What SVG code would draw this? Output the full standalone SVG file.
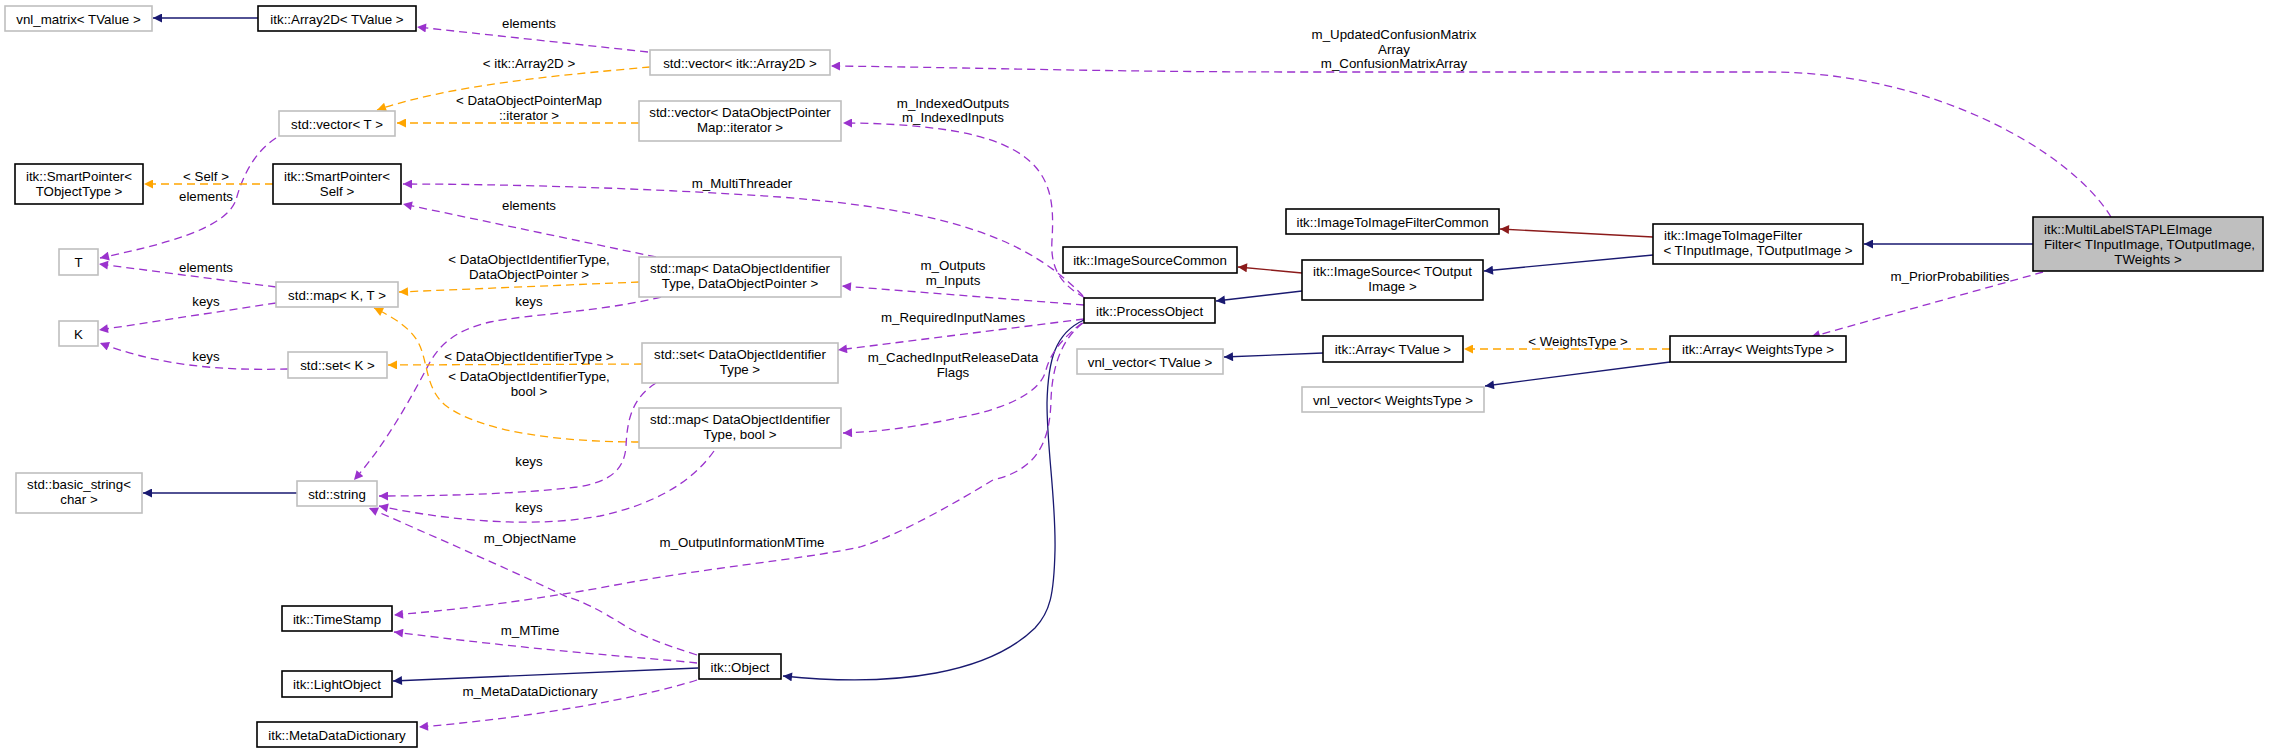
<svg xmlns="http://www.w3.org/2000/svg" width="2269" height="753" viewBox="0 0 2269 753">
<defs>
<style>
text{font-family:"Liberation Sans",Arial,sans-serif;font-size:13.3px;fill:#000}
.c{text-anchor:middle}
.l{text-anchor:start}
.nb{fill:#fff;stroke:#000;stroke-width:1.6}
.ng{fill:#fff;stroke:#bfbfbf;stroke-width:1.6}
.nm{fill:#bfbfbf;stroke:#000;stroke-width:1.6}
.u{fill:none;stroke:#9a32cd;stroke-width:1.3;stroke-dasharray:8,5;marker-end:url(#ap)}
.t{fill:none;stroke:#ffa500;stroke-width:1.3;stroke-dasharray:8,5;marker-end:url(#ao)}
.i{fill:none;stroke:#191970;stroke-width:1.3;marker-end:url(#an)}
.r{fill:none;stroke:#8b1a1a;stroke-width:1.3;marker-end:url(#ar)}
</style>
<marker id="ap" viewBox="0 0 10 10" refX="10" refY="5" markerWidth="12" markerHeight="9" markerUnits="userSpaceOnUse" orient="auto"><path d="M0,0 L10,5 L0,10 z" fill="#9a32cd"/></marker>
<marker id="ao" viewBox="0 0 10 10" refX="10" refY="5" markerWidth="12" markerHeight="9" markerUnits="userSpaceOnUse" orient="auto"><path d="M0,0 L10,5 L0,10 z" fill="#ffa500"/></marker>
<marker id="an" viewBox="0 0 10 10" refX="10" refY="5" markerWidth="12" markerHeight="9" markerUnits="userSpaceOnUse" orient="auto"><path d="M0,0 L10,5 L0,10 z" fill="#191970"/></marker>
<marker id="ar" viewBox="0 0 10 10" refX="10" refY="5" markerWidth="12" markerHeight="9" markerUnits="userSpaceOnUse" orient="auto"><path d="M0,0 L10,5 L0,10 z" fill="#8b1a1a"/></marker>
</defs>
<rect width="2269" height="753" fill="#fff"/>

<g id="connectors">
<path class="i" d="M258,18 L153,18"/>
<path class="u" d="M648,52 L417,27"/>
<path class="t" d="M650,67 C560,75 450,85 377,110"/>
<path class="t" d="M639,123 L397,123"/>
<path class="u" d="M2111,217 C2070,150 1930,72 1770,72 L1300,72 C1100,72 950,67 831,66"/>
<path class="u" d="M1085,298 C1062,285 1050,270 1052,240 C1055,190 1050,150 960,132 C920,125 880,123 843,123"/>
<path class="u" d="M1083,296 C1030,240 950,210 780,197 C650,188 500,184 403,184"/>
<path class="u" d="M656,257 L403,204"/>
<path class="t" d="M639,282 L399,292"/>
<path class="u" d="M661,297 C600,312 530,314 490,322 C455,330 440,345 430,362 C410,400 385,445 354,480"/>
<path class="u" d="M276,287 L99,264"/>
<path class="u" d="M276,303 L99,330"/>
<path class="u" d="M288,369 C240,370 170,370 100,343"/>
<path class="u" d="M276,138 C250,155 240,185 236,200 C225,230 160,245 100,258"/>
<path class="t" d="M273,184 L144,184"/>
<path class="t" d="M642,364 L388,365"/>
<path class="t" d="M639,442 C560,442 480,432 445,405 C425,388 428,360 418,342 C410,328 395,318 374,308"/>
<path class="u" d="M656,383 C632,398 627,420 626,447 C624,470 610,482 577,487 C520,494 440,496 379,496"/>
<path class="u" d="M714,451 C690,485 650,505 600,516 C540,527 460,523 379,506"/>
<path class="i" d="M297,493 L143,493"/>
<path class="u" d="M2043,272 L1811,337"/>
<path class="t" d="M1670,349 L1464,349"/>
<path class="i" d="M1670,362 L1485,386"/>
<path class="i" d="M1323,353 L1224,357"/>
<path class="i" d="M2033,244 L1864,244"/>
<path class="r" d="M1653,237 L1500,229"/>
<path class="i" d="M1653,255 L1484,271"/>
<path class="r" d="M1302,273 L1238,267"/>
<path class="i" d="M1302,291 L1216,301"/>
<path class="i" d="M1084,320 C1055,333 1048,360 1047,403 C1047,450 1056,500 1055,550 C1054,595 1050,612 1035,628 C990,672 900,688 783,676"/>
<path class="u" d="M1084,305 L842,286"/>
<path class="u" d="M1084,319 L838,350"/>
<path class="u" d="M1082,323 C1060,340 1050,355 1046,370 C1040,395 1000,410 957,418 C920,426 880,432 843,433"/>
<path class="u" d="M1083,323 C1060,340 1052,370 1051,400 C1050,445 1035,470 993,480 C960,500 900,535 860,547 C800,560 700,568 600,588 C500,605 450,610 394,615"/>
<path class="u" d="M697,663 C640,657 560,653 394,632"/>
<path class="i" d="M698,668 L393,681"/>
<path class="u" d="M697,680 C640,698 530,718 419,727"/>
<path class="u" d="M697,655 C665,645 640,635 627,627 C600,610 580,600 567,597 C500,565 430,535 369,508"/>

<text class="c" x="529" y="28">elements</text>
<text class="c" x="529" y="68">&lt; itk::Array2D &gt;</text>
<text class="c" x="529" y="105">&lt; DataObjectPointerMap</text>
<text class="c" x="529" y="120">::iterator &gt;</text>
<text class="c" x="206" y="181">&lt; Self &gt;</text>
<text class="c" x="206" y="201">elements</text>
<text class="c" x="529" y="210">elements</text>
<text class="c" x="529" y="264">&lt; DataObjectIdentifierType,</text>
<text class="c" x="529" y="279">DataObjectPointer &gt;</text>
<text class="c" x="206" y="272">elements</text>
<text class="c" x="206" y="306">keys</text>
<text class="c" x="529" y="306">keys</text>
<text class="c" x="206" y="361">keys</text>
<text class="c" x="529" y="361">&lt; DataObjectIdentifierType &gt;</text>
<text class="c" x="529" y="381">&lt; DataObjectIdentifierType,</text>
<text class="c" x="529" y="396">bool &gt;</text>
<text class="c" x="529" y="466">keys</text>
<text class="c" x="529" y="512">keys</text>
<text class="c" x="530" y="543">m_ObjectName</text>
<text class="c" x="530" y="635">m_MTime</text>
<text class="c" x="530" y="696">m_MetaDataDictionary</text>
<text class="c" x="742" y="547">m_OutputInformationMTime</text>
<text class="c" x="953" y="362">m_CachedInputReleaseData</text>
<text class="c" x="953" y="377">Flags</text>
<text class="c" x="953" y="322">m_RequiredInputNames</text>
<text class="c" x="953" y="270">m_Outputs</text>
<text class="c" x="953" y="285">m_Inputs</text>
<text class="c" x="742" y="188">m_MultiThreader</text>
<text class="c" x="953" y="108">m_IndexedOutputs</text>
<text class="c" x="953" y="122">m_IndexedInputs</text>
<text class="c" x="1394" y="39">m_UpdatedConfusionMatrix</text>
<text class="c" x="1394" y="54">Array</text>
<text class="c" x="1394" y="68">m_ConfusionMatrixArray</text>
<text class="c" x="1950" y="281">m_PriorProbabilities</text>
<text class="c" x="1578" y="346">&lt; WeightsType &gt;</text>
</g>

<g id="n_vnl_matrix"><rect class="ng" x="5" y="6" width="147" height="25"/><text class="c" x="78.5" y="23.5">vnl_matrix&lt; TValue &gt;</text></g>
<g id="n_array2d"><rect class="nb" x="258" y="6" width="158" height="25"/><text class="c" x="337" y="23.5">itk::Array2D&lt; TValue &gt;</text></g>
<g id="n_vector_array2d"><rect class="ng" x="650" y="50" width="180" height="25"/><text class="c" x="740" y="67.5">std::vector&lt; itk::Array2D &gt;</text></g>
<g id="n_vector_dopm"><rect class="ng" x="639" y="101" width="202" height="40"/><text class="c" x="740" y="116.5">std::vector&lt; DataObjectPointer</text><text class="c" x="740" y="131.5">Map::iterator &gt;</text></g>
<g id="n_vector_t"><rect class="ng" x="279" y="111" width="116" height="25"/><text class="c" x="337" y="128.5">std::vector&lt; T &gt;</text></g>
<g id="n_smartptr_t"><rect class="nb" x="15" y="164" width="128" height="40"/><text class="c" x="79" y="180.5">itk::SmartPointer&lt;</text><text class="c" x="79" y="195.5">TObjectType &gt;</text></g>
<g id="n_smartptr_self"><rect class="nb" x="273" y="164" width="128" height="40"/><text class="c" x="337" y="180.5">itk::SmartPointer&lt;</text><text class="c" x="337" y="195.5">Self &gt;</text></g>
<g id="n_T"><rect class="ng" x="59" y="249" width="39" height="26"/><text class="c" x="78.5" y="267">T</text></g>
<g id="n_K"><rect class="ng" x="59" y="321" width="39" height="25"/><text class="c" x="78.5" y="338.5">K</text></g>
<g id="n_map_kt"><rect class="ng" x="276" y="282" width="122" height="25"/><text class="c" x="337" y="299.5">std::map&lt; K, T &gt;</text></g>
<g id="n_set_k"><rect class="ng" x="288" y="352" width="99" height="26"/><text class="c" x="337.5" y="370">std::set&lt; K &gt;</text></g>
<g id="n_map_doit_dop"><rect class="ng" x="639" y="257" width="202" height="40"/><text class="c" x="740" y="272.5">std::map&lt; DataObjectIdentifier</text><text class="c" x="740" y="287.5">Type, DataObjectPointer &gt;</text></g>
<g id="n_set_doit"><rect class="ng" x="642" y="343" width="196" height="40"/><text class="c" x="740" y="358.5">std::set&lt; DataObjectIdentifier</text><text class="c" x="740" y="373.5">Type &gt;</text></g>
<g id="n_map_doit_bool"><rect class="ng" x="639" y="408" width="202" height="40"/><text class="c" x="740" y="423.5">std::map&lt; DataObjectIdentifier</text><text class="c" x="740" y="438.5">Type, bool &gt;</text></g>
<g id="n_basic_string"><rect class="ng" x="16" y="473" width="126" height="40"/><text class="c" x="79" y="488.5">std::basic_string&lt;</text><text class="c" x="79" y="503.5">char &gt;</text></g>
<g id="n_string"><rect class="ng" x="297" y="481" width="80" height="25"/><text class="c" x="337" y="498.5">std::string</text></g>
<g id="n_timestamp"><rect class="nb" x="282" y="606" width="110" height="25"/><text class="c" x="337" y="623.5">itk::TimeStamp</text></g>
<g id="n_lightobject"><rect class="nb" x="282" y="671" width="110" height="26"/><text class="c" x="337" y="689">itk::LightObject</text></g>
<g id="n_metadatadict"><rect class="nb" x="257" y="722" width="160" height="25"/><text class="c" x="337" y="739.5">itk::MetaDataDictionary</text></g>
<g id="n_object"><rect class="nb" x="699" y="654" width="82" height="25"/><text class="c" x="740" y="671.5">itk::Object</text></g>
<g id="n_processobject"><rect class="nb" x="1084" y="298" width="131" height="25"/><text class="c" x="1149.5" y="315.5">itk::ProcessObject</text></g>
<g id="n_imagesourcecommon"><rect class="nb" x="1063" y="247" width="174" height="26"/><text class="c" x="1150" y="265">itk::ImageSourceCommon</text></g>
<g id="n_vnl_vector_tvalue"><rect class="ng" x="1077" y="349" width="146" height="25"/><text class="c" x="1150" y="366.5">vnl_vector&lt; TValue &gt;</text></g>
<g id="n_imagesource"><rect class="nb" x="1302" y="260" width="181" height="40"/><text class="c" x="1392.5" y="275.5">itk::ImageSource&lt; TOutput</text><text class="c" x="1392.5" y="290.5">Image &gt;</text></g>
<g id="n_i2ifcommon"><rect class="nb" x="1286" y="209" width="213" height="25"/><text class="c" x="1392.5" y="226.5">itk::ImageToImageFilterCommon</text></g>
<g id="n_array_tvalue"><rect class="nb" x="1323" y="336" width="140" height="26"/><text class="c" x="1393" y="354">itk::Array&lt; TValue &gt;</text></g>
<g id="n_vnl_vector_wt"><rect class="ng" x="1302" y="387" width="182" height="25"/><text class="c" x="1393" y="404.5">vnl_vector&lt; WeightsType &gt;</text></g>
<g id="n_i2if"><rect class="nb" x="1653" y="224" width="210" height="40"/><text class="l" x="1664" y="239.5">itk::ImageToImageFilter</text><text class="c" x="1758" y="254.5">&lt; TInputImage, TOutputImage &gt;</text></g>
<g id="n_array_wt"><rect class="nb" x="1670" y="336" width="176" height="26"/><text class="c" x="1758" y="354">itk::Array&lt; WeightsType &gt;</text></g>
<g id="n_multilabel"><rect class="nm" x="2033" y="217" width="230" height="54"/><text class="l" x="2044" y="233.5">itk::MultiLabelSTAPLEImage</text><text class="l" x="2044" y="248.5">Filter&lt; TInputImage, TOutputImage,</text><text class="c" x="2148" y="263.5">TWeights &gt;</text></g>
</svg>
